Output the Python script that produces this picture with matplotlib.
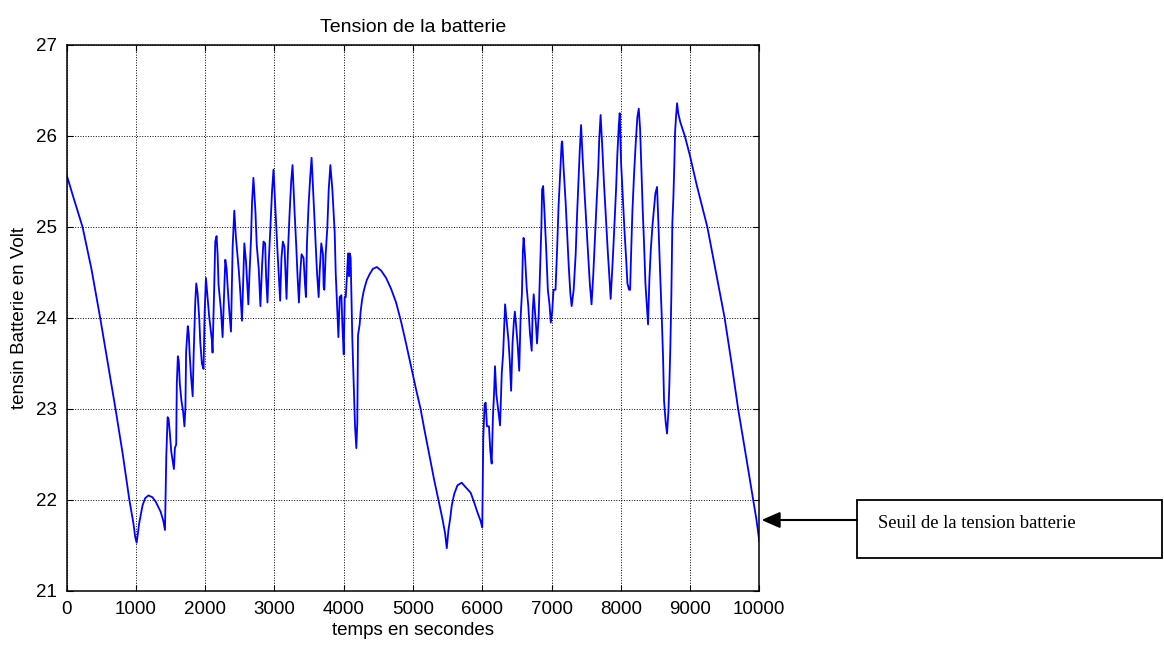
import matplotlib.pyplot as plt
from matplotlib.patches import Rectangle

# battery voltage trace (s, V)
temps = [
    0, 95, 229, 357, 486, 595, 705, 810, 905, 962, 990, 1010,
    1048, 1095, 1133, 1181, 1238, 1286, 1357, 1395, 1419,
    1438, 1457, 1471, 1490, 1510, 1548, 1562, 1581, 1590, 1605, 1619, 1633,
    1657, 1681, 1700, 1714, 1724, 1748, 1762, 1776, 1795, 1819, 1833, 1857,
    1871, 1890, 1914, 1929, 1952, 1976, 1990, 2010,
    2058, 2097, 2106, 2130, 2145, 2164, 2179, 2193, 2227, 2251, 2275, 2290,
    2309, 2324, 2348, 2372, 2396, 2420, 2444, 2483, 2502, 2531, 2551, 2565,
    2589, 2623, 2638, 2662, 2676, 2696, 2725, 2744, 2773, 2797, 2821, 2841,
    2865, 2879, 2899, 2918, 2942, 2966, 2986, 3015, 3039, 3063, 3082, 3101,
    3121, 3145, 3159, 3174, 3193, 3217, 3242, 3261, 3290, 3314, 3333, 3353,
    3372, 3391, 3420, 3440, 3454, 3469, 3493, 3517, 3536, 3570, 3594, 3614,
    3638, 3652, 3676, 3700, 3710, 3720, 3739, 3763, 3783, 3807, 3836, 3870,
    3884, 3908, 3923, 3942, 3966, 3981, 4000,
    4014, 4029, 4048, 4062, 4077, 4086, 4100, 4110, 4124, 4144, 4163, 4182,
    4196, 4206, 4230, 4244, 4263, 4287, 4311, 4335, 4373, 4421, 4478, 4541,
    4612, 4684, 4756, 4828, 4900, 4971, 5043, 5110, 5163, 5235, 5306, 5368,
    5426, 5464, 5488, 5512, 5536, 5560, 5593, 5641, 5703, 5761, 5833, 5880,
    5928, 5976, 6000,
    6015, 6034, 6049, 6068, 6097, 6117, 6136, 6155, 6170, 6184, 6204, 6233,
    6257, 6282, 6301, 6320, 6330, 6349, 6379, 6398, 6417, 6437, 6456, 6471,
    6485, 6510, 6534, 6553, 6573, 6587, 6597, 6616, 6641, 6665, 6689, 6714,
    6728, 6743, 6762, 6777, 6791, 6815, 6835, 6854, 6864, 6879, 6898, 6922,
    6947, 6971, 6990, 7010, 7029, 7058, 7082, 7102, 7126, 7146, 7155, 7175,
    7204, 7228, 7248, 7272, 7291, 7320, 7349, 7369, 7388, 7408, 7427, 7447,
    7476, 7505, 7529, 7553, 7578, 7602, 7626, 7650, 7675, 7689, 7709, 7733,
    7757, 7786, 7815, 7835, 7854, 7883, 7908, 7932, 7951, 7971, 7985,
    8005, 8029, 8053, 8077, 8096, 8120, 8135, 8149, 8168, 8192, 8216, 8240,
    8260, 8279, 8298, 8317, 8337, 8356, 8375, 8394, 8413, 8433, 8457, 8481,
    8500, 8524, 8543, 8567, 8591, 8611, 8625, 8649, 8668, 8688, 8702, 8716,
    8731, 8745, 8760, 8774, 8784, 8798, 8813, 8830, 8860, 8925, 9000, 9100,
    9250, 9380, 9500, 9600, 9695, 9800, 9912, 9960, 10000,
]
tension = [
    25.57, 25.33, 25.00, 24.54, 23.99, 23.50, 23.00, 22.50, 22.00, 21.75, 21.59, 21.53,
    21.75, 21.94, 22.02, 22.05, 22.03, 21.98, 21.87, 21.77, 21.67,
    22.48, 22.91, 22.89, 22.73, 22.53, 22.34, 22.57, 22.61, 23.28, 23.58, 23.52, 23.28,
    23.09, 22.97, 22.81, 23.01, 23.62, 23.91, 23.83, 23.60, 23.36, 23.14, 23.60, 24.19,
    24.38, 24.27, 23.99, 23.73, 23.50, 23.44, 24.01, 24.44,
    24.01, 23.75, 23.62, 24.34, 24.84, 24.90, 24.70, 24.36, 24.09, 23.79, 24.31, 24.64,
    24.54, 24.34, 24.07, 23.85, 24.78, 25.18, 24.88, 24.54, 24.34, 23.97, 24.46, 24.82,
    24.62, 24.15, 24.46, 24.88, 25.27, 25.54, 25.17, 24.80, 24.54, 24.13, 24.58, 24.84,
    24.82, 24.46, 24.17, 24.62, 25.01, 25.41, 25.63, 25.17, 24.80, 24.46, 24.19, 24.66,
    24.84, 24.78, 24.50, 24.21, 24.70, 25.13, 25.51, 25.68, 25.17, 24.80, 24.46, 24.17,
    24.50, 24.70, 24.66, 24.38, 24.23, 24.82, 25.25, 25.56, 25.76, 25.21, 24.82, 24.50,
    24.23, 24.50, 24.82, 24.70, 24.34, 24.31, 24.70, 24.99, 25.41, 25.68, 25.41, 24.93,
    24.50, 24.07, 23.79, 24.23, 24.25, 23.91, 23.60,
    24.23, 24.23, 24.48, 24.71, 24.46, 24.71, 24.66, 24.31, 23.77, 23.26, 22.81, 22.57,
    22.85, 23.81, 23.93, 24.07, 24.19, 24.29, 24.36, 24.42, 24.48, 24.54, 24.56, 24.52,
    24.44, 24.32, 24.17, 23.96, 23.72, 23.47, 23.22, 23.00, 22.78, 22.50, 22.22, 22.00,
    21.79, 21.63, 21.47, 21.67, 21.79, 21.94, 22.06, 22.16, 22.19, 22.14, 22.08, 21.98,
    21.87, 21.77, 21.70,
    22.69, 23.05, 23.07, 22.81, 22.81, 22.53, 22.40, 22.93, 23.16, 23.47, 23.16, 22.97,
    22.82, 23.40, 23.60, 23.95, 24.15, 23.99, 23.75, 23.52, 23.20, 23.72, 23.95, 24.07,
    23.95, 23.72, 23.42, 23.99, 24.27, 24.74, 24.88, 24.70, 24.34, 24.13, 23.83, 23.64,
    24.07, 24.26, 24.07, 23.91, 23.72, 24.03, 24.52, 25.01, 25.41, 25.45, 25.17, 24.78,
    24.31, 24.15, 23.95, 24.07, 24.31, 24.31, 24.78, 25.23, 25.60, 25.92, 25.94, 25.64,
    25.27, 24.90, 24.58, 24.27, 24.13, 24.31, 24.70, 25.13, 25.49, 25.84, 26.12, 25.80,
    25.39, 25.01, 24.68, 24.38, 24.15, 24.46, 24.86, 25.25, 25.64, 25.96, 26.23, 25.88,
    25.49, 25.09, 24.70, 24.46, 24.21, 24.62, 25.01, 25.41, 25.80, 26.11, 26.25,
    25.70, 25.33, 24.97, 24.66, 24.38, 24.31, 24.31, 24.70, 25.17, 25.58, 25.92, 26.21,
    26.30, 26.08, 25.64, 25.19, 24.80, 24.38, 24.15, 23.93, 24.42, 24.74, 25.01, 25.21,
    25.37, 25.44, 25.05, 24.52, 24.03, 23.56, 23.09, 22.85, 22.73, 22.97, 23.28, 23.68,
    24.27, 25.05, 25.33, 25.70, 26.04, 26.21, 26.36, 26.25, 26.15, 26.00, 25.78, 25.45,
    25.00, 24.48, 24.00, 23.50, 23.00, 22.52, 22.00, 21.78, 21.55,
]

xticks = [0, 1000, 2000, 3000, 4000, 5000, 6000, 7000, 8000, 9000, 10000]
yticks = [21, 22, 23, 24, 25, 26, 27]

plt.rcParams['font.family'] = ['Liberation Sans', 'DejaVu Sans']

fig = plt.figure(figsize=(11.64, 6.49), dpi=100)
ax = fig.add_axes([0.0573, 0.0894, 0.595, 0.8413])

ax.plot(temps, tension, color='#0000ff', lw=1.3)

ax.set_xlim(0, 10000)
ax.set_ylim(21, 27)
ax.set_xticks(xticks)
ax.set_yticks(yticks)
ax.grid(True, color='black', linestyle=':', linewidth=0.7)
ax.tick_params(direction='in', top=True, right=True, length=4.5, width=0.8,
               labelsize=13.5)
ax.tick_params(axis='y', pad=7)
ax.tick_params(axis='x', pad=7)
for s in ax.spines.values():
    s.set_linewidth(1.1)

ax.set_title('Tension de la batterie', fontsize=14, pad=9)
ax.set_xlabel('temps en secondes', fontsize=13.5, labelpad=3)
ax.set_ylabel('tensin Batterie en Volt', fontsize=13.5, labelpad=6)

# threshold note on the right with its arrow
W, H = 1164, 649
fig.add_artist(Rectangle((857 / W, 91 / H), 305 / W, 58 / H,
                         transform=fig.transFigure, fill=False,
                         edgecolor='black', linewidth=1.3))
fig.text(878 / W, 126 / H, 'Seuil de la tension batterie',
         family='Liberation Serif', fontsize=13.4, va='center', ha='left')
ax.annotate('', xy=(761.5 / W, 129 / H), xycoords='figure fraction',
            xytext=(857 / W, 129 / H), textcoords='figure fraction',
            arrowprops=dict(arrowstyle='-|>,head_length=0.8,head_width=0.35',
                            mutation_scale=14, color='black', lw=1.5,
                            shrinkA=0, shrinkB=0),
            annotation_clip=False)

plt.savefig('out.png', dpi=100)
